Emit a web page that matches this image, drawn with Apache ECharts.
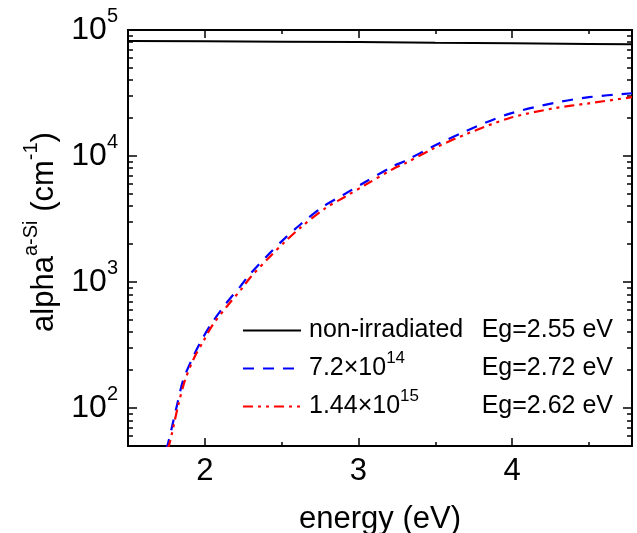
<!DOCTYPE html>
<html><head><meta charset="utf-8">
<script src="https://cdn.jsdelivr.net/npm/echarts@6/dist/echarts.min.js"></script>
<style>html,body{margin:0;padding:0;background:#fff}#c{width:637px;height:533px}</style>
</head><body><div id="c"></div>
<script>
// ---- data ----
const energyNonIrr = [1.5, 2.0, 2.5, 3.0, 3.5, 4.0, 4.5, 4.78];
const alphaNonIrr  = [81800, 81300, 80800, 80200, 79300, 78600, 77600, 77000];

const energy72e14 = [1.745, 1.76, 1.817, 1.86, 1.925, 1.98, 2.045, 2.14, 2.23, 2.29, 2.40, 2.51, 2.62, 2.77, 2.90, 3.03, 3.22, 3.30, 3.49, 3.70, 3.98, 4.27, 4.50, 4.78];
const alpha72e14  = [47, 52, 103, 168, 257, 348, 472, 680, 920, 1140, 1590, 2160, 2850, 3970, 4910, 6080, 8240, 9100, 12000, 15800, 21600, 26300, 29300, 31500];

const energy144e15 = [1.755, 1.77, 1.825, 1.87, 1.93, 1.99, 2.05, 2.15, 2.24, 2.30, 2.41, 2.52, 2.63, 2.78, 2.91, 3.04, 3.23, 3.30, 3.49, 3.70, 3.98, 4.27, 4.50, 4.78];
const alpha144e15  = [47, 52, 103, 165, 250, 338, 455, 655, 885, 1100, 1530, 2080, 2750, 3820, 4730, 5860, 7950, 8700, 11500, 14900, 19950, 23900, 26200, 29300];

const seriesNames = ['non-irradiated', '7.2×10^14', '1.44×10^15'];
const egLabels = ['Eg=2.55 eV', 'Eg=2.72 eV', 'Eg=2.62 eV'];

const xRange = [1.5, 4.78];
const yRange = [50, 100000];
const xMajorTicks = [2, 3, 4];
const xMinorTicks = [2.5, 3.5, 4.5];
const yMajorTicks = [100, 1000, 10000, 100000];
const yMinorTicks = [50, 60, 70, 80, 90, 200, 300, 400, 500, 600, 700, 800, 900,
                     2000, 3000, 4000, 5000, 6000, 7000, 8000, 9000,
                     20000, 30000, 40000, 50000, 60000, 70000, 80000, 90000];

// ---- build ----
const FONT = "'Liberation Sans', Arial, sans-serif";
const zip = (a, b) => a.map((v, i) => [v, b[i]]);
const tickStyle = {color: '#000', width: 1.5};

function xAx(position, ticks, len, withLabels) {
  const ax = {
    type: 'value', position: position, min: xRange[0], max: xRange[1], interval: 0.5,
    axisLine: {show: false}, splitLine: {show: false},
    axisTick: {show: true, inside: true, length: len, lineStyle: tickStyle, customValues: ticks},
    axisLabel: {show: false}
  };
  if (withLabels) {
    ax.axisLabel = {
      show: true, margin: 10, fontSize: 31, color: '#000', fontFamily: FONT,
      formatter: v => Math.abs(v - Math.round(v)) < 1e-9 ? String(Math.round(v)) : ''
    };
    ax.name = 'energy (eV)'; ax.nameLocation = 'middle'; ax.nameGap = 58;
    ax.nameTextStyle = {fontSize: 31, color: '#000', fontFamily: FONT};
  }
  return ax;
}
function yAx(position, ticks, len, withLabels) {
  const ax = {
    type: 'log', logBase: 10, position: position, min: yRange[0], max: yRange[1],
    axisLine: {show: false}, splitLine: {show: false}, minorSplitLine: {show: false},
    axisTick: {show: true, inside: true, length: len, lineStyle: tickStyle, customValues: ticks},
    axisLabel: {show: false}
  };
  if (withLabels) {
    ax.axisLabel = {
      show: true, margin: 10, color: '#000',
      formatter: v => {
        const l = Math.log10(v), e = Math.round(l);
        if (Math.abs(l - e) > 1e-6) return '';
        return '{b|10}{s|' + e + '}';
      },
      rich: {
        b: {fontSize: 32, fontFamily: FONT, color: '#000', lineHeight: 48},
        s: {fontSize: 20, fontFamily: FONT, color: '#000', verticalAlign: 'top', lineHeight: 8}
      }
    };
    ax.name = '{m|alpha}{s|a-Si}{m| (cm}{s|-1}{m|)}';
    ax.nameLocation = 'middle'; ax.nameGap = 60; ax.nameRotate = 90;
    ax.nameTextStyle = {
      padding: [0, 0, 0, 12],
      rich: {
        m: {fontSize: 31, fontFamily: FONT, color: '#000', lineHeight: 46},
        s: {fontSize: 20, fontFamily: FONT, color: '#000', verticalAlign: 'top', lineHeight: 8}
      }
    };
  }
  return ax;
}

const chart = echarts.init(document.getElementById('c'), null, {renderer: 'canvas'});
chart.setOption({
  animation: false,
  backgroundColor: '#fff',
  textStyle: {fontFamily: FONT, color: '#000'},
  grid: {left: 128, right: 5, top: 30, bottom: 87, containLabel: false, outerBoundsMode: 'none',
         show: true, borderColor: '#000', borderWidth: 2, backgroundColor: 'transparent'},
  xAxis: [
    xAx('bottom', xMajorTicks, 8, true),
    xAx('bottom', xMinorTicks, 4, false),
    xAx('top', xMajorTicks, 8, false),
    xAx('top', xMinorTicks, 4, false)
  ],
  yAxis: [
    yAx('left', yMajorTicks, 9, true),
    yAx('left', yMinorTicks, 5, false),
    yAx('right', yMajorTicks, 9, false),
    yAx('right', yMinorTicks, 5, false)
  ],
  legend: {
    orient: 'vertical', left: 237, top: 313,
    itemWidth: 58, itemHeight: 14, itemGap: 6.5,
    itemStyle: {opacity: 0},
    data: seriesNames,
    formatter: name => {
      const i = seriesNames.indexOf(name);
      const parts = name.split('^');
      if (parts.length === 1) return '{t|' + parts[0] + '}{e|' + egLabels[i] + '}';
      return '{t|' + parts[0] + '}{s|' + parts[1] + '}{e|' + egLabels[i] + '}';
    },
    textStyle: {
      width: 304, padding: [0, 0, 0, 3],
      rich: {
        t: {fontSize: 25, fontFamily: FONT, color: '#000', lineHeight: 38},
        s: {fontSize: 17, fontFamily: FONT, color: '#000', verticalAlign: 'top', lineHeight: 6},
        e: {fontSize: 25, fontFamily: FONT, color: '#000', lineHeight: 38, align: 'right'}
      }
    }
  },
  series: [
    {name: seriesNames[0], type: 'line', data: zip(energyNonIrr, alphaNonIrr), symbol: 'none', color: '#000',
     lineStyle: {color: '#000', width: 2}, z: 3},
    {name: seriesNames[1], type: 'line', data: zip(energy72e14, alpha72e14), symbol: 'none', smooth: 0.3, color: '#0000ff',
     lineStyle: {color: '#0000ff', width: 2.2, type: [11, 9]}, z: 3},
    {name: seriesNames[2], type: 'line', data: zip(energy144e15, alpha144e15), symbol: 'none', smooth: 0.3, color: '#ff0000',
     lineStyle: {color: '#ff0000', width: 2.2, type: [10, 5, 3, 5, 3, 5]}, z: 4}
  ]
});
</script></body></html>
